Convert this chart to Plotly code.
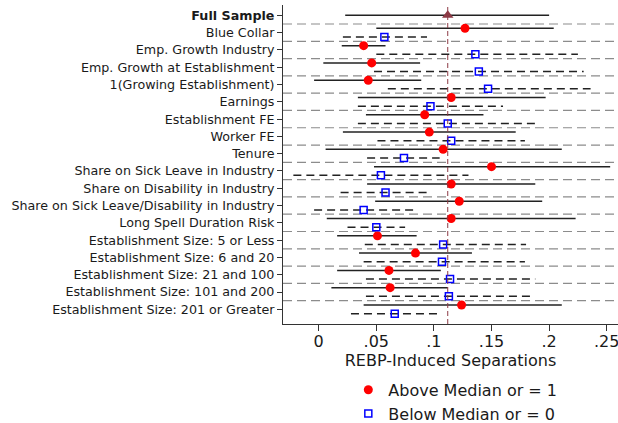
import plotly.graph_objects as go

categories = [
    "Full Sample", "Blue Collar", "Emp. Growth Industry", "Emp. Growth at Establishment",
    "1(Growing Establishment)", "Earnings", "Establishment FE", "Worker FE", "Tenure",
    "Share on Sick Leave in Industry", "Share on Disability in Industry",
    "Share on Sick Leave/Disability in Industry", "Long Spell Duration Risk",
    "Establishment Size: 5 or Less", "Establishment Size: 6 and 20",
    "Establishment Size: 21 and 100", "Establishment Size: 101 and 200",
    "Establishment Size: 201 or Greater",
]

full_est = 0.112
full_lo = 0.023
full_hi = 0.200

above_est = [0.127, 0.039, 0.046, 0.043, 0.115, 0.092, 0.096, 0.108, 0.150, 0.115, 0.122, 0.115, 0.051, 0.084, 0.061, 0.062, 0.124]
above_lo = [0.050, 0.020, 0.004, -0.004, 0.034, 0.041, 0.021, 0.006, 0.048, 0.042, 0.049, 0.007, 0.016, 0.035, 0.016, 0.011, 0.039]
above_hi = [0.204, 0.058, 0.088, 0.089, 0.197, 0.143, 0.171, 0.211, 0.253, 0.188, 0.194, 0.223, 0.085, 0.133, 0.106, 0.112, 0.211]

below_est = [0.057, 0.136, 0.139, 0.147, 0.097, 0.112, 0.115, 0.074, 0.054, 0.058, 0.039, 0.050, 0.108, 0.107, 0.114, 0.113, 0.066]
below_lo = [0.021, 0.050, 0.048, 0.060, 0.034, 0.034, 0.051, 0.042, -0.022, 0.019, -0.004, 0.025, 0.040, 0.039, 0.041, 0.041, 0.028]
below_hi = [0.094, 0.225, 0.230, 0.236, 0.160, 0.191, 0.179, 0.105, 0.130, 0.097, 0.082, 0.075, 0.180, 0.179, 0.188, 0.186, 0.104]

x_ticks = [0, 0.05, 0.1, 0.15, 0.2, 0.25]
x_tick_labels = ["0", ".05", ".1", ".15", ".2", ".25"]

FONT = "DejaVu Sans"
ypos = list(range(len(categories)))
sub = ypos[1:]
y_above = [p - 0.25 for p in sub]
y_below = [p + 0.25 for p in sub]


def segs(lo, hi, ys):
    xs, yy = [], []
    for a, b, y in zip(lo, hi, ys):
        xs += [a, b, None]
        yy += [y, y, None]
    return xs, yy


fig = go.Figure()

fx, fy = segs([full_lo], [full_hi], [0])
fig.add_trace(go.Scatter(x=fx, y=fy, mode="lines", line=dict(color="#222222", width=1.5),
                         showlegend=False, hoverinfo="skip"))
ax, ay = segs(above_lo, above_hi, y_above)
fig.add_trace(go.Scatter(x=ax, y=ay, mode="lines", line=dict(color="#222222", width=1.5),
                         showlegend=False, hoverinfo="skip"))
bx, by = segs(below_lo, below_hi, y_below)
fig.add_trace(go.Scatter(x=bx, y=by, mode="lines", line=dict(color="#222222", width=1.5, dash="8px,5px"),
                         showlegend=False, hoverinfo="skip"))

fig.add_trace(go.Scatter(x=[full_est], y=[0], mode="markers",
                         marker=dict(symbol="triangle-up", size=10, color="#8c3a45"),
                         showlegend=False))
fig.add_trace(go.Scatter(x=above_est, y=y_above, mode="markers", name="Above Median or = 1",
                         marker=dict(symbol="circle", size=9, color="#ff0000")))
fig.add_trace(go.Scatter(x=below_est, y=y_below, mode="markers", name="Below Median or = 0",
                         marker=dict(symbol="square-open", size=7, color="#0000ff", line=dict(width=1.5))))

shapes = []
for p in ypos[:-1]:
    shapes.append(dict(type="line", xref="paper", x0=0, x1=1, yref="y", y0=p + 0.5, y1=p + 0.5,
                       line=dict(color="#8c8c8c", width=1.2, dash="9px,5px"), layer="below"))
shapes.append(dict(type="line", xref="x", x0=full_est, x1=full_est, yref="paper", y0=0, y1=1,
                   line=dict(color="#8c3a45", width=1, dash="5px,3px"), layer="above"))

fig.update_layout(
    width=618, height=423,
    margin=dict(l=283, r=0, t=5, b=99, autoexpand=False),
    paper_bgcolor="white", plot_bgcolor="white",
    font=dict(family=FONT, color="#1a1a1a", size=16),
    shapes=shapes,
    showlegend=True,
    legend=dict(x=0.195, y=-0.153, xanchor="left", yanchor="top", orientation="v",
                font=dict(family=FONT, size=16), bgcolor="rgba(0,0,0,0)", tracegroupgap=0),
    xaxis=dict(range=[-0.031, 0.2598], tickvals=x_ticks, ticktext=x_tick_labels,
               showgrid=False, zeroline=False, showline=True, linecolor="#333333", linewidth=1,
               ticks="outside", ticklen=6, tickcolor="#333333", tickfont=dict(size=16),
               automargin=False, ticklabelstandoff=-3, ticklabeloverflow="allow",
               title=dict(text="REBP-Induced Separations", font=dict(size=16), standoff=2)),
    yaxis=dict(range=[17.85, -0.6], tickvals=ypos,
               ticktext=["<b>Full Sample</b>"] + categories[1:],
               showgrid=False, zeroline=False, showline=True, linecolor="#333333", linewidth=1,
               ticks="outside", ticklen=5, tickcolor="#333333", tickfont=dict(size=12.7),
               automargin=False, ticklabeloverflow="allow"),
)

fig.write_html("out.html", config={"displayModeBar": False},
               post_script="document.body.style.margin='0px';")
